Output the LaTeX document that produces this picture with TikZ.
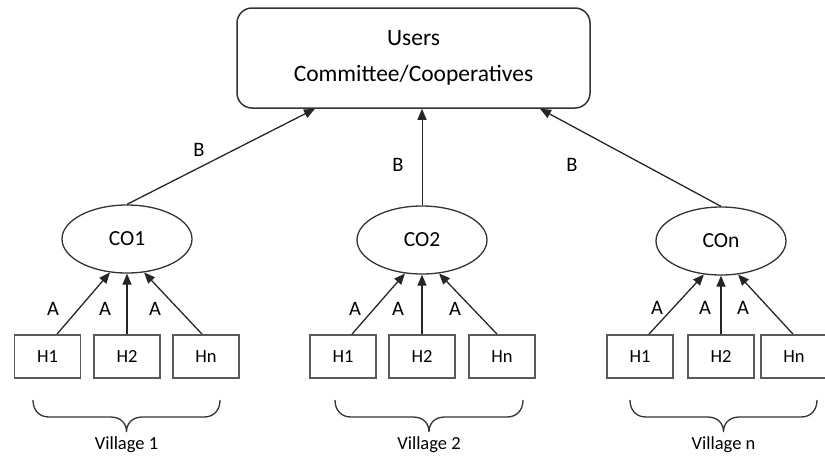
\documentclass[tikz,border=0pt]{standalone}
\usepackage{fontspec}
\setmainfont{Carlito}
\usetikzlibrary{shapes.geometric,arrows.meta}

\tikzset{
  topbox/.style={draw=black!80, line width=1.5pt, rounded corners=15pt,
    minimum width=353pt, minimum height=100pt, align=center,
    font=\fontsize{23.5}{36}\selectfont, text=black},
  coop/.style={ellipse, draw=black!80, line width=1.3pt, minimum width=130pt,
    minimum height=68pt, inner sep=0pt, font=\fontsize{21.5}{24}\selectfont, text=black},
  house/.style={rectangle, draw=black!65, line width=1.8pt, minimum width=66pt,
    minimum height=43pt, inner sep=0pt, font=\fontsize{18.5}{20}\selectfont, text=black},
  lbl/.style={inner sep=0pt, font=\fontsize{20.5}{22}\selectfont, text=black},
  vlbl/.style={inner sep=0pt, font=\fontsize{18.5}{20}\selectfont, text=black},
  link/.style={line width=1.3pt, black!85, -{Triangle[length=11pt,width=9pt]}},
  brace/.style={line width=1.3pt, black!80},
  pics/vbrace/.style={code={
    \draw[brace] (-#1,0) .. controls (-#1,10) and (-#1+6,17) .. (-#1+16,17)
      -- (-16,17) .. controls (-6,17) and (0,23) .. (0,32)
      .. controls (0,23) and (6,17) .. (16,17)
      -- (#1-16,17) .. controls (#1-6,17) and (#1,10) .. (#1,0);
  }}
}

\begin{document}
\begin{tikzpicture}[x=1pt, y=-1pt]
\useasboundingbox (0,0) rectangle (825,456);

% committee at the top
\node[topbox] (users) at (413.5,58) {Users\\Committee/Cooperatives};

% community organisations
\node[coop] (co1) at (127,239) {CO1};
\node[coop] (co2) at (422,240) {CO2};
\node[coop] (con) at (721,241) {COn};

% households of each village
\node[house] (v1h1) at (47.5,356.5) {H1};
\node[house] (v1h2) at (127,356.5) {H2};
\node[house] (v1hn) at (206,356.5) {Hn};

\node[house] (v2h1) at (343,356.5) {H1};
\node[house] (v2h2) at (422,356.5) {H2};
\node[house] (v2hn) at (502,356.5) {Hn};

\node[house] (vnh1) at (640,356.5) {H1};
\node[house] (vnh2) at (721,356.5) {H2};
\node[house] (vnhn) at (794,356.5) {Hn};

% links B: organisations to committee
\draw[link] (co1.north) -- ([xshift=-98.5pt]users.south);
\draw[link, line width=0.9pt] (co2.north) -- (co2.north |- users.south);
\draw[link] (con.north) -- ([xshift=126.5pt]users.south);

\node[lbl] (b1) at (199,150) {B};
\node[lbl] (b2) at (398,165) {B};
\node[lbl] (b3) at (572,165) {B};

% links A: households to organisations
\draw[link] ([xshift=9.5pt]v1h1.north) -- (co1.243);
\draw[link] (v1h2.north) -- (co1.south);
\draw[link] ([xshift=-4pt]v1hn.north) -- (co1.297);

\draw[link] ([xshift=9pt]v2h1.north) -- (co2.243);
\draw[link] (v2h2.north) -- (co2.south);
\draw[link] ([xshift=-5pt]v2hn.north) -- (co2.297);

\draw[link] ([xshift=9pt]vnh1.north) -- (con.243);
\draw[link] (vnh2.north) -- (con.south);
\draw[link] ([xshift=-1pt]vnhn.north) -- (con.297);

\node[lbl] (a11) at (53,309) {A};
\node[lbl] (a12) at (105,309) {A};
\node[lbl] (a13) at (155,309) {A};
\node[lbl] (a21) at (355,309) {A};
\node[lbl] (a22) at (398,309) {A};
\node[lbl] (a23) at (455,309) {A};
\node[lbl] (an1) at (657,308) {A};
\node[lbl] (an2) at (705,308) {A};
\node[lbl] (an3) at (743,308) {A};

% braces grouping each village
\pic at (126.5,400) {vbrace=93.5};
\pic at (429,400) {vbrace=94};
\pic at (723.5,400) {vbrace=93.5};

\node[vlbl] (vil1) at (126.5,445) {Village 1};
\node[vlbl] (vil2) at (429,445) {Village 2};
\node[vlbl] (viln) at (723.5,445) {Village n};
\end{tikzpicture}
\end{document}
